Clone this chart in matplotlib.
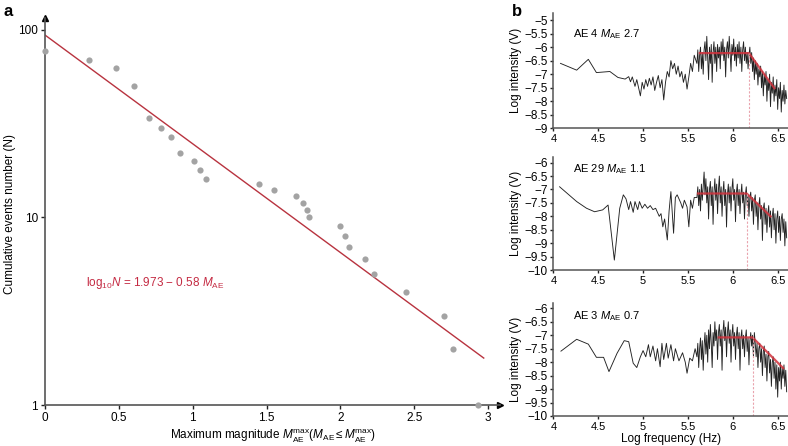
import numpy as np
import matplotlib
matplotlib.use("Agg")
import matplotlib.pyplot as plt

plt.rcParams['font.family'] = ['Liberation Sans', 'DejaVu Sans']
plt.rcParams['mathtext.fontset'] = 'custom'
plt.rcParams['mathtext.rm'] = 'Liberation Sans'
plt.rcParams['mathtext.it'] = 'Liberation Sans:italic'

# ---- panel a: cumulative events vs max magnitude ----
mag_max = [0.0, 0.30, 0.48, 0.605, 0.706, 0.783, 0.855, 0.916, 1.009, 1.052, 1.092,
           1.451, 1.553, 1.70, 1.749, 1.772, 1.785, 2.0, 2.033, 2.058, 2.167, 2.225,
           2.446, 2.70, 2.762, 2.93]
cum_events = [77, 69, 63, 50, 34, 30, 27, 22, 20, 18, 16,
              15, 14, 13, 12, 11, 10, 9, 8, 7, 6, 5,
              4, 3, 2, 1]
fit_a, fit_b = 1.973, 0.58
fit_range = [0.0, 2.97]

# ---- panel b: spectra (low-frequency part as read, dense part on 0.01 grid) ----
dense_freq = np.round(np.arange(5.60, 6.605, 0.01), 2)

ae4_low_f = [4.08, 4.26, 4.39, 4.48, 4.63, 4.72, 4.80, 4.84, 4.86, 4.88, 4.91, 4.93, 4.95,
             4.97, 4.99, 5.01, 5.03, 5.05, 5.07, 5.09, 5.11, 5.13, 5.15, 5.17, 5.19, 5.21,
             5.23, 5.25, 5.27, 5.29, 5.31, 5.33, 5.35, 5.37, 5.39, 5.41, 5.43, 5.45, 5.47,
             5.49, 5.51, 5.53, 5.55, 5.57]
ae4_low_i = [-6.6, -6.85, -6.45, -6.94, -6.9, -7.12, -7.18, -7.09, -7.28, -7.1, -7.45, -7.2,
             -7.5, -7.8, -7.3, -7.55, -7.2, -7.45, -7.15, -7.4, -7.1, -7.6, -7.3, -7.05, -7.5,
             -7.2, -7.95, -7.3, -6.9, -7.1, -6.5, -6.8, -6.6, -7.0, -6.7, -7.1, -6.9, -7.3,
             -7.0, -7.55, -7.1, -6.6, -6.9, -6.3]
ae4_dense_i = [-6.6, -6.1, -6.9, -6.3, -6.0, -6.8, -6.2, -7.0, -6.1, -5.8,
               -6.5, -5.6, -6.4, -7.2, -6.0, -6.6, -5.9, -7.3, -6.2, -5.8,
               -6.6, -6.0, -6.9, -5.9, -6.4, -6.0, -6.8, -5.8, -6.3, -5.7,
               -6.5, -6.0, -7.1, -6.1, -5.8, -6.4, -5.6, -6.2, -6.9, -5.9,
               -6.3, -5.7, -6.5, -6.0, -6.7, -5.9, -6.4, -5.8, -6.6, -6.0,
               -6.9, -6.1, -5.8, -6.5, -6.0, -6.6, -6.2, -6.8, -6.3, -6.0,
               -6.6, -6.2, -6.9, -6.4, -7.2, -6.5, -7.0, -6.6, -7.4, -6.8,
               -7.1, -6.7, -7.5, -6.9, -7.8, -7.0, -7.4, -6.9, -8.0, -7.2,
               -7.6, -7.0, -8.2, -7.3, -7.7, -7.1, -8.0, -7.4, -7.8, -7.2,
               -8.3, -7.5, -7.9, -7.3, -8.4, -7.6, -8.0, -7.4, -8.1, -7.6, -7.9]
ae4_fit_f = [5.62, 6.18, 6.47]
ae4_fit_i = [-6.22, -6.22, -7.55]

ae29_low_f = [4.07, 4.26, 4.37, 4.46, 4.55, 4.61, 4.68, 4.74, 4.78, 4.81, 4.84, 4.86, 4.89,
              4.91, 4.94, 4.96, 4.99, 5.02, 5.05, 5.08, 5.11, 5.14, 5.18, 5.20, 5.22, 5.24,
              5.27, 5.29, 5.31, 5.34, 5.36, 5.38, 5.40, 5.42, 5.44, 5.46, 5.49, 5.51, 5.53,
              5.55, 5.57]
ae29_low_i = [-6.9, -7.45, -7.70, -7.83, -7.76, -7.58, -9.63, -7.70, -7.2, -7.35, -7.75,
              -7.45, -7.85, -7.45, -7.75, -7.45, -7.7, -7.55, -7.7, -7.6, -7.75, -7.7, -8.0,
              -7.9, -8.39, -8.1, -8.88, -7.8, -7.08, -8.63, -7.3, -7.2, -7.35, -7.5, -7.7,
              -7.4, -7.65, -8.39, -7.4, -7.7, -7.3]
ae29_dense_i = [-7.3, -6.9, -7.6, -7.0, -7.8, -6.8, -7.4, -6.9, -6.35, -7.2,
                -6.6, -7.5, -6.9, -8.1, -7.0, -6.7, -7.6, -6.9, -8.3, -7.1,
                -6.6, -7.4, -6.8, -7.9, -7.0, -6.5, -7.5, -6.9, -8.0, -7.1,
                -6.7, -7.6, -7.0, -8.4, -7.2, -6.8, -7.5, -6.9, -7.8, -7.0,
                -6.6, -7.4, -7.0, -8.2, -7.1, -6.8, -7.6, -7.0, -7.9, -7.2,
                -6.8, -7.5, -7.1, -8.1, -7.2, -6.9, -7.6, -7.2, -8.0, -7.3,
                -7.1, -7.8, -7.3, -8.3, -7.4, -7.2, -8.0, -7.5, -8.5, -7.6,
                -7.3, -8.1, -7.6, -8.9, -7.7, -7.5, -8.3, -7.7, -8.6, -7.9,
                -7.6, -8.4, -7.8, -8.8, -8.0, -7.7, -8.5, -7.9, -9.0, -8.1,
                -7.8, -8.6, -8.0, -8.9, -8.1, -7.9, -8.6, -8.1, -9.1, -8.2, -8.8]
ae29_fit_f = [5.60, 6.155, 6.43]
ae29_fit_i = [-7.15, -7.15, -8.03]

ae3_low_f = [4.085, 4.26, 4.39, 4.48, 4.56, 4.62, 4.71, 4.79, 4.84, 4.89, 4.93, 4.97,
             5.00, 5.03, 5.06, 5.08, 5.11, 5.14, 5.16, 5.19, 5.21, 5.23, 5.26, 5.28, 5.31,
             5.34, 5.36, 5.40, 5.44, 5.47, 5.49, 5.52, 5.55, 5.58]
ae3_low_i = [-7.59, -7.15, -7.33, -7.82, -7.82, -8.35, -7.67, -7.2, -7.24, -8.04, -8.2,
             -7.8, -7.57, -7.8, -7.35, -7.8, -7.4, -7.95, -7.5, -8.17, -7.3, -7.9, -7.3,
             -7.85, -7.35, -7.95, -7.5, -7.95, -7.65, -8.0, -8.41, -7.85, -7.95, -7.5]
ae3_dense_i = [-7.8, -7.3, -8.2, -7.5, -7.1, -7.9, -7.2, -8.3, -7.4, -6.9,
               -7.7, -7.0, -8.0, -6.8, -7.5, -6.6, -7.3, -8.2, -6.9, -7.4,
               -6.5, -7.2, -6.8, -7.9, -6.9, -6.6, -7.4, -6.8, -8.3, -6.9,
               -6.45, -7.2, -6.7, -7.8, -6.9, -6.5, -7.3, -6.8, -8.0, -7.0,
               -6.6, -7.4, -6.9, -7.9, -7.0, -6.7, -7.5, -6.9, -8.3, -7.1,
               -6.8, -7.5, -7.0, -7.8, -7.1, -6.8, -7.6, -7.1, -8.1, -7.2,
               -6.9, -7.4, -7.0, -7.8, -6.9, -7.3, -7.8, -7.3, -8.2, -7.5,
               -7.3, -8.0, -7.5, -8.5, -7.6, -7.4, -8.2, -7.7, -8.7, -7.8,
               -7.6, -8.4, -7.9, -8.9, -8.0, -7.8, -8.6, -8.0, -9.0, -8.1,
               -9.3, -8.2, -8.7, -8.0, -9.0, -8.2, -8.6, -8.1, -8.9, -8.3, -9.1]
ae3_fit_f = [5.83, 6.22, 6.57]
ae3_fit_i = [-7.08, -7.08, -8.25]

spectra = [
    ("AE 4", "2.7", ae4_low_f, ae4_low_i, ae4_dense_i, ae4_fit_f, ae4_fit_i, (-9, -4.75), np.arange(-9, -4.9, 0.5), -5.5),
    ("AE 29", "1.1", ae29_low_f, ae29_low_i, ae29_dense_i, ae29_fit_f, ae29_fit_i, (-10, -5.78), np.arange(-10, -5.9, 0.5), -6.25),
    ("AE 3", "0.7", ae3_low_f, ae3_low_i, ae3_dense_i, ae3_fit_f, ae3_fit_i, (-10, -5.79), np.arange(-10, -5.9, 0.5), -6.27),
]
panel_rects = [(0.7022, 0.7123, 0.2978, 0.2578),
               (0.7022, 0.3946, 0.2978, 0.254),
               (0.7022, 0.0673, 0.2978, 0.254)]

spine_col = '#555555'
red = '#b8333f'

def tick_label(v):
    s = ('%g' % v)
    return s.replace('-', '\u2212')

fig = plt.figure(figsize=(7.88, 4.46), dpi=100)

# panel a
ax = fig.add_axes([0.0571, 0.0919, 0.5774, 0.868])
ax.set_yscale('log')
ax.set_xlim(0, 3.08)
ax.set_ylim(1, 116)
ax.scatter(mag_max, cum_events, s=20, color='#a3a3a3', zorder=3, clip_on=False, linewidths=0)
fx = np.array(fit_range)
ax.plot(fx, 10 ** (fit_a - fit_b * fx), color=red, lw=1.0, zorder=2)
ax.text(0.28, 4.47, r'$\mathregular{log_{10}}N$ = 1.973 $-$ 0.58 $M_{\mathrm{AE}}$',
        color='#c42a42', fontsize=8.5, va='center', ha='left')
for s in ['top', 'right']:
    ax.spines[s].set_visible(False)
for s in ['left', 'bottom']:
    ax.spines[s].set_color(spine_col)
    ax.spines[s].set_linewidth(1.2)
ax.set_yticks([1, 10, 100])
ax.set_yticklabels(['1', '10', '100'])
ax.yaxis.set_minor_locator(matplotlib.ticker.NullLocator())
ax.set_xticks([0, 0.5, 1, 1.5, 2, 2.5, 3])
ax.set_xticklabels(['0', '0.5', '1', '1.5', '2', '2.5', '3'])
ax.tick_params(direction='out', length=3, width=1, labelsize=8.5, color='#222222', pad=2)
ax.plot(1, 0, '>', color='black', ms=5, transform=ax.transAxes, clip_on=False)
ax.plot(0, 1, '^', color='black', ms=5, transform=ax.transAxes, clip_on=False)
ax.set_xlabel(r'Maximum magnitude $M_{\mathrm{AE}}^{\mathrm{max}}$($M_{\mathrm{AE}}\leq M_{\mathrm{AE}}^{\mathrm{max}}$)',
              fontsize=8.5, labelpad=3)
fig.text(0.005, 0.52, 'Cumulative events number (N)', fontsize=8.5, rotation=90,
         ha='left', va='center')

fig.text(0.004, 0.975, 'a', fontsize=12, fontweight='bold', va='center')
fig.text(0.650, 0.975, 'b', fontsize=12, fontweight='bold', va='center')

# panel b
for i, (name, mag, lf, li, di, ff, fi, ylim, yt, ty) in enumerate(spectra):
    bx = fig.add_axes(panel_rects[i])
    freq = list(lf) + list(dense_freq)
    inten = list(li) + list(di)
    bx.plot(freq, inten, color='#222222', lw=0.65)
    bx.plot(ff, fi, color='#d2323c', lw=1.6, alpha=0.85, solid_capstyle='butt')
    bx.plot([ff[1], ff[1]], [ylim[0], fi[1]], color='#e9a3ad', lw=0.8, ls=(0, (2, 1.5)))
    bx.set_xlim(4, 6.615)
    bx.set_ylim(*ylim)
    bx.set_xticks([4, 4.5, 5, 5.5, 6, 6.5])
    bx.set_xticklabels(['4', '4.5', '5', '5.5', '6', '6.5'])
    bx.set_yticks(yt)
    bx.set_yticklabels([tick_label(v) for v in yt])
    for s in ['top', 'right']:
        bx.spines[s].set_visible(False)
    for s in ['left', 'bottom']:
        bx.spines[s].set_color(spine_col)
        bx.spines[s].set_linewidth(1.1)
    bx.tick_params(direction='out', length=2.5, width=1, labelsize=8, color='#222222', pad=1.5)
    bx.tick_params(axis='y', labelsize=8.5)
    bx.set_ylabel('Log intensity (V)', fontsize=8.5, labelpad=2)
    bx.text(4.22, ty, name + r' $M_{\mathrm{AE}}$ ' + mag, fontsize=8, va='center', ha='left')
    if i == 2:
        bx.set_xlabel('Log frequency (Hz)', fontsize=8.5, labelpad=1)

fig.savefig('out.png', dpi=100)
